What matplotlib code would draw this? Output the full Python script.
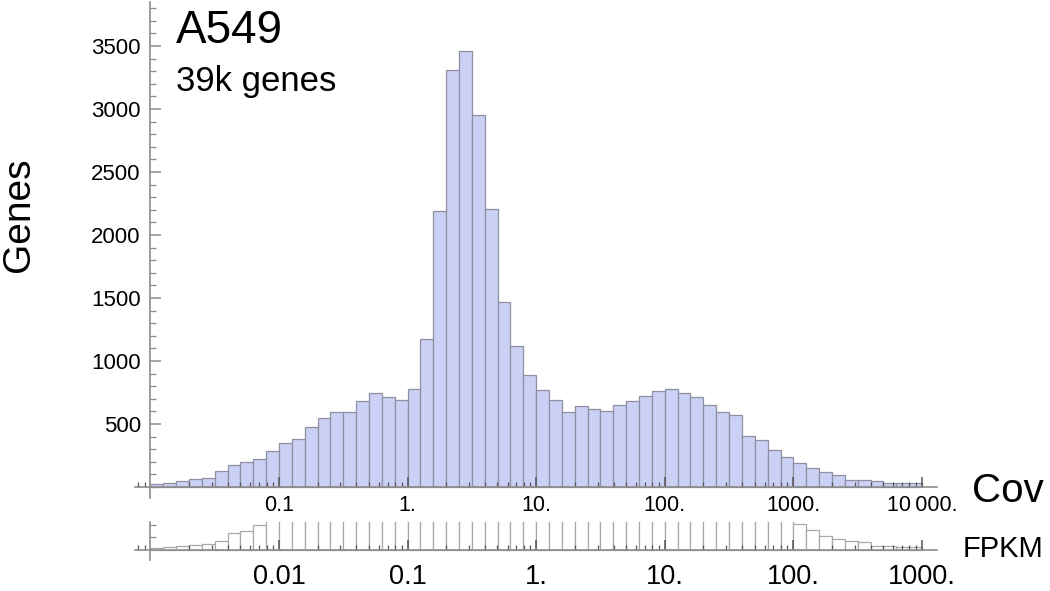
import numpy as np
import matplotlib.pyplot as plt
from matplotlib.ticker import LogLocator, MultipleLocator, FixedLocator, NullFormatter

# bins: 10 per decade, coverage 0.01 .. 10000 (FPKM = Cov / 10)
cov_edges = 10.0 ** np.linspace(-2, 4, 61)
fpkm_edges = cov_edges / 10.0

cov_counts = [26, 34, 45, 63, 74, 130, 172, 201, 220, 283,
              352, 384, 479, 548, 593, 598, 680, 743, 714, 690,
              778, 1172, 2193, 3312, 3458, 2950, 2204, 1471, 1122, 886,
              767, 688, 595, 646, 619, 601, 654, 680, 720, 765,
              781, 746, 717, 648, 595, 574, 407, 370, 296, 241,
              193, 148, 119, 93, 58, 56, 48, 34, 34, 29]

# lower strip: clipped at the top, middle bins run off scale
fpkm_counts = [18, 24, 29, 37, 48, 71, 133, 153, 196, 283,
               352, 384, 479, 548, 593, 598, 680, 743, 714, 690,
               778, 1172, 2193, 3312, 3458, 2950, 2204, 1471, 1122, 886,
               767, 688, 595, 646, 619, 601, 654, 680, 720, 765,
               781, 746, 717, 648, 595, 574, 407, 370, 296, 241,
               204, 159, 109, 87, 71, 63, 34, 34, 24, 24]

cov_ticks = [0.1, 1, 10, 100, 1000, 10000]
cov_labels = ["0.1", "1.", "10.", "100.", "1000.", "10\u2009000."]
fpkm_ticks = [0.01, 0.1, 1, 10, 100, 1000]
fpkm_labels = ["0.01", "0.1", "1.", "10.", "100.", "1000."]
gene_ticks = [500, 1000, 1500, 2000, 2500, 3000, 3500]

plt.rcParams['font.family'] = ['Liberation Sans', 'DejaVu Sans']

W, H = 1050, 591
fig = plt.figure(figsize=(W / 100, H / 100), dpi=100)


def box(x0, y0, x1, y1):
    return [x0 / W, 1 - y1 / H, (x1 - x0) / W, (y1 - y0) / H]


axis_col = '#8c8c8c'
tick_col = '#555555'

# main histogram
ax = fig.add_axes(box(135, 2, 937, 498))
ax.bar(cov_edges[:-1], cov_counts, width=np.diff(cov_edges), align='edge',
       color='#cbd1f5', edgecolor='#8e8fa3', linewidth=0.9)
ax.set_xscale('log')
ax.set_xlim(10 ** -2.12, 10 ** 4.117)
ax.set_ylim(-87, 3849)
for s in ['top', 'right']:
    ax.spines[s].set_visible(False)
ax.spines['left'].set_position(('data', 0.01))
ax.spines['bottom'].set_position(('data', 0))
for s in ['left', 'bottom']:
    ax.spines[s].set_color(axis_col)
    ax.spines[s].set_linewidth(1.2)
ax.set_xticks(cov_ticks, cov_labels)
ax.xaxis.set_minor_locator(LogLocator(base=10, subs=np.arange(2, 10), numticks=20))
ax.xaxis.set_minor_formatter(NullFormatter())
ax.tick_params(axis='x', which='major', direction='in', length=7, width=1.1,
               color=tick_col, labelsize=15.5, pad=6)
ax.tick_params(axis='x', which='minor', direction='in', length=3.5, width=0.9,
               color=tick_col)
ax.yaxis.set_major_locator(FixedLocator(gene_ticks))
ax.yaxis.set_minor_locator(MultipleLocator(100))
ax.tick_params(axis='y', which='major', direction='in', length=8, width=1.1,
               color=axis_col, labelsize=16, pad=7)
ax.tick_params(axis='y', which='minor', direction='in', length=4, width=0.9,
               color=axis_col)
ax.patch.set_alpha(0)

# lower FPKM strip
ax2 = fig.add_axes(box(135, 521.7, 937, 560))
ax2.bar(fpkm_edges[:-1], fpkm_counts, width=np.diff(fpkm_edges), align='edge',
        color='white', edgecolor='#a8a8a8', linewidth=0.9)
ax2.set_xscale('log')
ax2.set_xlim(10 ** -3.12, 10 ** 3.117)
ax2.set_ylim(-80, 225)
for s in ['top', 'right']:
    ax2.spines[s].set_visible(False)
ax2.spines['left'].set_position(('data', 0.001))
ax2.spines['bottom'].set_position(('data', 0))
for s in ['left', 'bottom']:
    ax2.spines[s].set_color(axis_col)
    ax2.spines[s].set_linewidth(1.2)
ax2.set_xticks(fpkm_ticks, fpkm_labels)
ax2.xaxis.set_minor_locator(LogLocator(base=10, subs=np.arange(2, 10), numticks=20))
ax2.xaxis.set_minor_formatter(NullFormatter())
ax2.tick_params(axis='x', which='major', direction='in', length=7, width=1.1,
                color=tick_col, labelsize=19.5, pad=10)
ax2.tick_params(axis='x', which='minor', direction='in', length=3.5, width=0.9,
                color=tick_col)
ax2.set_yticks([100, 200], ["", ""])
ax2.tick_params(axis='y', direction='in', length=4, width=0.9, color=axis_col)
ax2.patch.set_alpha(0)

# labels
fig.text(176 / W, 1 - 43 / H, "A549", fontsize=33, va='baseline', ha='left')
fig.text(176 / W, 1 - 91 / H, "39k genes", fontsize=25, va='baseline', ha='left')
fig.text(19 / W, 1 - 215 / H, "Genes", fontsize=28, rotation=90, va='center', ha='center')
fig.text(972 / W, 1 - 502 / H, "Cov", fontsize=29, va='baseline', ha='left')
fig.text(963 / W, 1 - 557 / H, "FPKM", fontsize=21, va='baseline', ha='left')

fig.savefig("out.png", dpi=100)
